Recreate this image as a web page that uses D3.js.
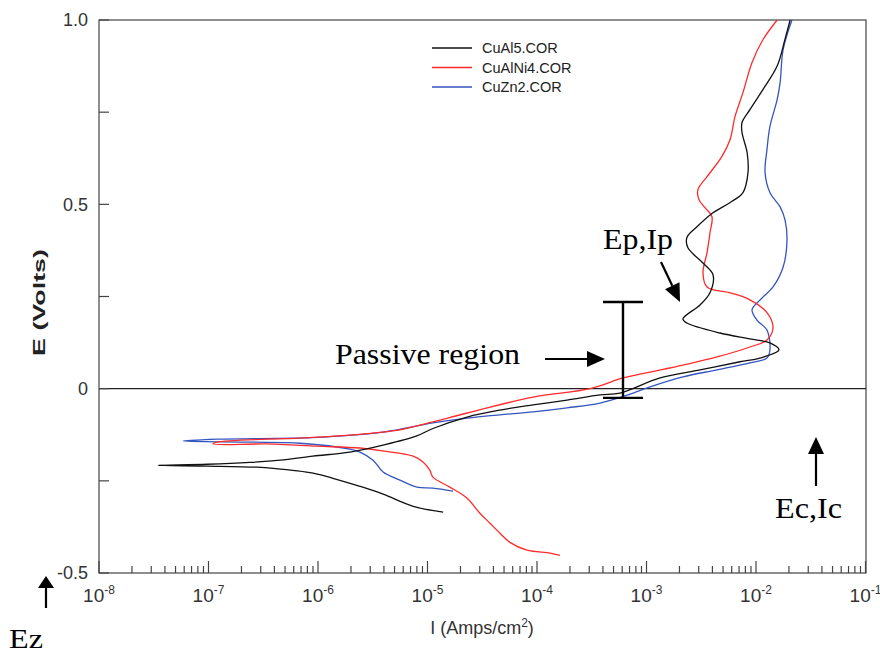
<!DOCTYPE html>
<html>
<head>
<meta charset="utf-8">
<script src="https://cdn.jsdelivr.net/npm/d3@7"></script>
<style>
  html, body { margin: 0; padding: 0; background: #fff; }
  svg { display: block; }
</style>
</head>
<body>
<svg id="chart" width="880" height="655"></svg>
<script>
// ---------- data (current density I in A/cm2, potential E in V) ----------
const seriesNames = ["CuAl5.COR", "CuAlNi4.COR", "CuZn2.COR"];
const seriesColors = ["#111111", "#ff2a2a", "#3355c0"];

const cuAl5_I = [1.39e-5,7.4e-6,3.93e-6,2.42e-6,1.37e-6,9.0e-7,3.88e-7,2.77e-7,9.7e-8,3.46e-8,
  9.7e-8,2.39e-7,4.5e-7,9.0e-7,1.96e-6,3.93e-6,8.0e-6,1.12e-5,2.3e-5,4.59e-5,
  9.2e-5,1.88e-4,3.76e-4,5.73e-4,1.33e-3,3.08e-3,7.15e-3,1.09e-2,1.62e-2,1.34e-2,
  8.8e-3,4.69e-3,2.34e-3,2.15e-3,3.08e-3,3.80e-3,4.05e-3,3.28e-3,2.39e-3,2.34e-3,
  2.89e-3,4.05e-3,5.8e-3,7.6e-3,8.45e-3,8.3e-3,7.45e-3,7.45e-3,8.8e-3,1.16e-2,
  1.56e-2,1.84e-2,2.05e-2];
const cuAl5_E = [-0.335,-0.319,-0.286,-0.265,-0.243,-0.229,-0.216,-0.213,-0.210,-0.208,
  -0.205,-0.200,-0.194,-0.183,-0.172,-0.153,-0.128,-0.108,-0.077,-0.058,
  -0.044,-0.031,-0.017,-0.012,0.029,0.051,0.073,0.083,0.105,0.124,
  0.135,0.151,0.178,0.189,0.227,0.260,0.309,0.341,0.382,0.410,
  0.439,0.477,0.505,0.532,0.586,0.640,0.695,0.722,0.757,0.812,
  0.875,0.948,1.0];

const cuAlNi4_I = [1.62e-4,1.32e-4,8.1e-5,5.66e-5,4.59e-5,3.72e-5,3.01e-5,2.3e-5,1.60e-5,1.12e-5,
  1.05e-5,9.1e-6,7.4e-6,3.93e-6,2.42e-6,9.8e-7,3.42e-7,1.10e-7,1.19e-7,6.86e-7,
  1.96e-6,5.6e-6,1.12e-5,2.3e-5,9.2e-5,3.05e-4,6.1e-4,1.08e-3,2.15e-3,4.41e-3,
  8.8e-3,1.26e-2,1.43e-2,1.26e-2,8.8e-3,5.8e-3,3.57e-3,3.28e-3,3.57e-3,3.80e-3,
  3.96e-3,3.42e-3,3.01e-3,2.95e-3,3.57e-3,4.89e-3,5.8e-3,6.43e-3,7.6e-3,9.2e-3,
  1.16e-2,1.56e-2];
const cuAlNi4_E = [-0.452,-0.446,-0.438,-0.417,-0.392,-0.365,-0.338,-0.297,-0.267,-0.240,
  -0.221,-0.199,-0.183,-0.169,-0.161,-0.156,-0.150,-0.150,-0.145,-0.134,
  -0.126,-0.112,-0.090,-0.066,-0.023,0.000,0.029,0.045,0.064,0.086,
  0.113,0.132,0.165,0.206,0.241,0.260,0.276,0.314,0.369,0.423,
  0.467,0.491,0.513,0.540,0.575,0.630,0.676,0.738,0.803,0.885,
  0.947,1.0];

const cuZn2_I = [1.71e-5,1.12e-5,8.0e-6,5.6e-6,3.93e-6,3.18e-6,2.42e-6,1.96e-6,6.86e-7,2.39e-7,
  5.85e-8,1.2e-7,9.8e-7,3.93e-6,1.12e-5,2.3e-5,4.59e-5,9.2e-5,1.88e-4,3.76e-4,
  7.54e-4,1.08e-3,2.15e-3,4.41e-3,8.8e-3,1.26e-2,1.34e-2,1.26e-2,1.02e-2,9.2e-3,
  1.09e-2,1.43e-2,1.77e-2,1.92e-2,1.84e-2,1.66e-2,1.34e-2,1.21e-2,1.26e-2,1.34e-2,
  1.56e-2,1.66e-2,1.77e-2,2.13e-2];
const cuZn2_E = [-0.278,-0.270,-0.267,-0.248,-0.226,-0.194,-0.172,-0.164,-0.148,-0.145,
  -0.142,-0.137,-0.132,-0.118,-0.093,-0.080,-0.071,-0.063,-0.052,-0.039,
  -0.012,0.005,0.032,0.051,0.070,0.083,0.105,0.159,0.186,0.214,
  0.241,0.276,0.330,0.404,0.458,0.493,0.532,0.586,0.649,0.711,
  0.784,0.830,0.920,1.0];

const yTicksMajor = [-0.5, 0, 0.5, 1.0];
const yTickLabels = ["-0.5", "0", "0.5", "1.0"];
const yTicksMinor = [-0.25, 0.25, 0.75];
const xDecadeExponents = [-8, -7, -6, -5, -4, -3, -2, -1];

// annotations in data units
const passiveI = 6.1e-4, passiveElow = -0.025, passiveEhigh = 0.235;

// ---------- layout ----------
const W = 880, H = 655;
const margin = {left: 99, top: 20, right: 14, bottom: 82};
const svg = d3.select("#chart");

const x = d3.scaleLog().domain([1e-8, 1e-1]).range([margin.left, W - margin.right - 0.5]);
const y = d3.scaleLinear().domain([-0.5, 1.0]).range([H - margin.bottom, margin.top]);

const axisColor = "#444";
const sans = "'Liberation Sans', Arial, sans-serif";
const serif = "'Liberation Serif', 'Times New Roman', serif";

svg.append("defs").append("clipPath").attr("id", "plotclip")
  .append("rect")
  .attr("x", margin.left).attr("y", margin.top - 1)
  .attr("width", W - margin.right - margin.left)
  .attr("height", H - margin.bottom - margin.top + 2);

// frame
svg.append("rect")
  .attr("x", margin.left).attr("y", margin.top)
  .attr("width", W - margin.right - margin.left)
  .attr("height", H - margin.bottom - margin.top)
  .attr("fill", "none").attr("stroke", axisColor).attr("stroke-width", 1.2);

// zero line
svg.append("line")
  .attr("x1", margin.left).attr("x2", W - margin.right)
  .attr("y1", y(0)).attr("y2", y(0))
  .attr("stroke", "#222").attr("stroke-width", 1.2);

// y ticks (inward)
svg.append("g").selectAll("line")
  .data(yTicksMajor.concat(yTicksMinor))
  .join("line")
  .attr("x1", margin.left).attr("x2", margin.left + 10)
  .attr("y1", d => y(d)).attr("y2", d => y(d))
  .attr("stroke", axisColor).attr("stroke-width", 1.2);

svg.append("g").selectAll("text")
  .data(yTicksMajor)
  .join("text")
  .attr("x", margin.left - 11)
  .attr("y", d => y(d))
  .attr("dy", "0.36em")
  .attr("text-anchor", "end")
  .attr("font-family", sans).attr("font-size", 18).attr("fill", "#333")
  .text((d, i) => yTickLabels[i]);

// x ticks (inward, log)
const xMinor = [];
xDecadeExponents.slice(0, -1).forEach(e => {
  for (let m = 2; m <= 9; m++) xMinor.push(m * Math.pow(10, e));
});
const xMajor = xDecadeExponents.map(e => Math.pow(10, e));
const yb = H - margin.bottom;
svg.append("g").selectAll("line")
  .data(xMinor).join("line")
  .attr("x1", d => x(d)).attr("x2", d => x(d))
  .attr("y1", yb).attr("y2", yb - 7)
  .attr("stroke", axisColor).attr("stroke-width", 1.2);
svg.append("g").selectAll("line")
  .data(xMajor).join("line")
  .attr("x1", d => x(d)).attr("x2", d => x(d))
  .attr("y1", yb).attr("y2", yb - 12)
  .attr("stroke", axisColor).attr("stroke-width", 1.2);

const xl = svg.append("g").selectAll("text")
  .data(xDecadeExponents).join("text")
  .attr("x", d => x(Math.pow(10, d)))
  .attr("y", yb + 29)
  .attr("text-anchor", "middle")
  .attr("font-family", sans).attr("font-size", 19).attr("fill", "#333");
xl.append("tspan").text("10");
xl.append("tspan").attr("dy", -8).attr("font-size", 12).text(d => String(d));

// axis titles
svg.append("text")
  .attr("transform", `translate(45, ${(margin.top + yb) / 2 + 6}) rotate(-90)`)
  .attr("text-anchor", "middle")
  .attr("font-family", sans).attr("font-weight", "bold").attr("font-size", 17)
  .attr("fill", "#222")
  .attr("textLength", 107).attr("lengthAdjust", "spacingAndGlyphs")
  .text("E (Volts)");

const xt = svg.append("text")
  .attr("x", 482).attr("y", yb + 61)
  .attr("text-anchor", "middle")
  .attr("font-family", sans).attr("font-size", 18).attr("fill", "#333");
xt.append("tspan").text("I (Amps/cm");
xt.append("tspan").attr("dy", -7).attr("font-size", 12).text("2");
xt.append("tspan").attr("dy", 7).text(")");

// curves
const series = [
  {name: seriesNames[0], color: seriesColors[0], I: cuAl5_I, E: cuAl5_E},
  {name: seriesNames[1], color: seriesColors[1], I: cuAlNi4_I, E: cuAlNi4_E},
  {name: seriesNames[2], color: seriesColors[2], I: cuZn2_I, E: cuZn2_E}
];
const line = d3.line()
  .x(d => x(d[0])).y(d => y(d[1]))
  .curve(d3.curveCatmullRom.alpha(0.5));
const plot = svg.append("g").attr("clip-path", "url(#plotclip)");
[2, 1, 0].forEach(k => {
  const s = series[k];
  plot.append("path")
    .datum(s.I.map((v, i) => [v, s.E[i]]))
    .attr("d", line)
    .attr("fill", "none")
    .attr("stroke", s.color)
    .attr("stroke-width", 1.3)
    .attr("stroke-linejoin", "round");
});

// legend
const leg = svg.append("g");
series.forEach((s, i) => {
  const ly = 48 + i * 19.5;
  leg.append("line").attr("x1", 432).attr("x2", 472).attr("y1", ly).attr("y2", ly)
    .attr("stroke", s.color).attr("stroke-width", 1.3);
  leg.append("text").attr("x", 482).attr("y", ly).attr("dy", "0.36em")
    .attr("font-family", sans).attr("font-size", 14.5).attr("fill", "#222")
    .text(s.name);
});

// ---------- annotations ----------
const ann = svg.append("g").attr("fill", "#000").attr("stroke", "#000");
function arrow(x1, y1, x2, y2, headLen, headHalf) {
  const ang = Math.atan2(y2 - y1, x2 - x1);
  const bx = x2 - headLen * Math.cos(ang), by = y2 - headLen * Math.sin(ang);
  ann.append("line").attr("x1", x1).attr("y1", y1).attr("x2", bx).attr("y2", by)
    .attr("stroke-width", 2.2);
  const px = -Math.sin(ang) * headHalf, py = Math.cos(ang) * headHalf;
  ann.append("path")
    .attr("d", `M${x2},${y2}L${bx + px},${by + py}L${bx - px},${by - py}Z`)
    .attr("stroke", "none");
}
// passive region I-beam
const pxI = x(passiveI);
ann.append("line").attr("x1", pxI).attr("x2", pxI)
  .attr("y1", y(passiveEhigh)).attr("y2", y(passiveElow)).attr("stroke-width", 2.4);
[passiveEhigh, passiveElow].forEach(e => {
  ann.append("line").attr("x1", pxI - 20).attr("x2", pxI + 20)
    .attr("y1", y(e)).attr("y2", y(e)).attr("stroke-width", 2.4);
});
ann.append("text").attr("x", 335).attr("y", 364)
  .attr("font-family", serif).attr("font-size", 30).attr("stroke", "none")
  .attr("textLength", 185).attr("lengthAdjust", "spacingAndGlyphs")
  .text("Passive region");
arrow(545, 359, pxI - 18, 359, 18, 8);

// Ep, Ip
ann.append("text").attr("x", 603).attr("y", 249)
  .attr("font-family", serif).attr("font-size", 30).attr("stroke", "none")
  .attr("textLength", 70).attr("lengthAdjust", "spacingAndGlyphs")
  .text("Ep,Ip");
arrow(661, 262, 680, 302, 18, 8);

// Ec, Ic
ann.append("text").attr("x", 775).attr("y", 518)
  .attr("font-family", serif).attr("font-size", 30).attr("stroke", "none")
  .attr("textLength", 67).attr("lengthAdjust", "spacingAndGlyphs")
  .text("Ec,Ic");
arrow(816, 486, 816, 437, 17, 8);

// Ez
ann.append("text").attr("x", 9).attr("y", 648)
  .attr("font-family", serif).attr("font-size", 28).attr("stroke", "none")
  .attr("textLength", 34).attr("lengthAdjust", "spacingAndGlyphs")
  .text("Ez");
arrow(46, 608, 46, 576, 12, 8);
</script>
</body>
</html>
